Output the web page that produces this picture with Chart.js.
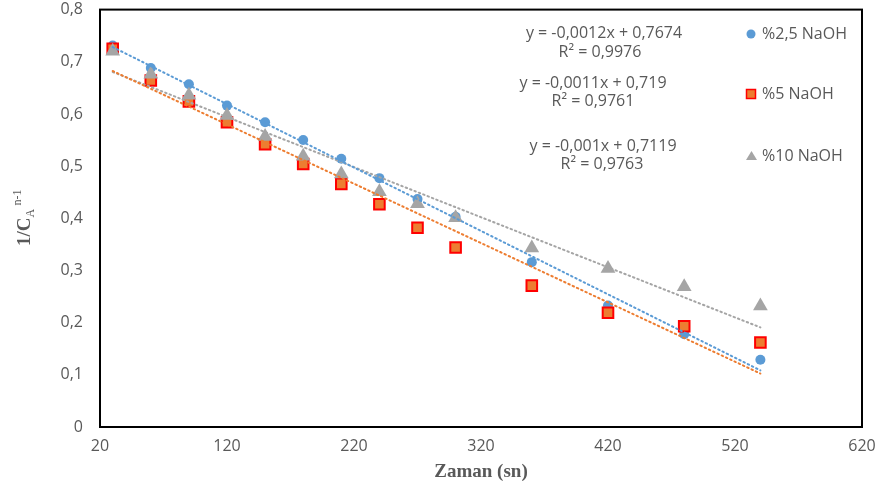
<!DOCTYPE html>
<html>
<head>
<meta charset="utf-8">
<script src="https://cdn.jsdelivr.net/npm/chart.js"></script>
<style>
	html, body { margin: 0; padding: 0; background: #fff; }
</style>
</head>
<body>
<canvas id="canvas" width="878" height="490"></canvas>
<script>
// zaman (sn)
var zaman = [30, 60, 90, 120, 150, 180, 210, 240, 270, 300, 360, 420, 480, 540];
// 1/CA^(n-1)
var naoh25 = [0.731, 0.688, 0.657, 0.616, 0.584, 0.550, 0.514, 0.477, 0.437, 0.403, 0.316, 0.233, 0.178, 0.129];
var naoh5  = [0.725, 0.664, 0.624, 0.584, 0.542, 0.504, 0.466, 0.427, 0.382, 0.344, 0.271, 0.219, 0.193, 0.162];
var naoh10 = [0.720, 0.676, 0.636, 0.597, 0.557, 0.519, 0.485, 0.451, 0.428, 0.401, 0.343, 0.304, 0.269, 0.232];

var seriesNames = ['%2,5 NaOH', '%5 NaOH', '%10 NaOH'];
var equations = ['y = -0,0012x + 0,7674', 'y = -0,0011x + 0,719', 'y = -0,001x + 0,7119'];
var r2Labels = ['R² = 0,9976', 'R² = 0,9761', 'R² = 0,9763'];

var colBlue = '#5B9BD5', colOrange = '#ED7D31', colRed = '#FF0000', colGray = '#A5A5A5';
var textCol = '#595959';

function points(xs, ys) {
	var out = [];
	for (var i = 0; i < xs.length; i++) out.push({x: xs[i], y: ys[i]});
	return out;
}

// least squares trend line, first to last x
function trend(xs, ys) {
	var n = xs.length, sx = 0, sy = 0, sxx = 0, sxy = 0;
	for (var i = 0; i < n; i++) {
		sx += xs[i]; sy += ys[i]; sxx += xs[i] * xs[i]; sxy += xs[i] * ys[i];
	}
	var m = (n * sxy - sx * sy) / (n * sxx - sx * sx);
	var b = (sy - m * sx) / n;
	return [{x: xs[0], y: b + m * xs[0]}, {x: xs[n - 1], y: b + m * xs[n - 1]}];
}

function trendSet(data, color) {
	return {
		type: 'line',
		data: data,
		showLine: true,
		borderColor: color,
		borderWidth: 2,
		borderDash: [1.5, 3.2],
		borderCapStyle: 'round',
		pointRadius: 0,
		fill: false,
		order: 0
	};
}

var extras = {
	id: 'extras',
	afterDraw: function(chart) {
		var ctx = chart.ctx, a = chart.chartArea;
		ctx.save();
		// frame
		ctx.strokeStyle = '#000';
		ctx.lineWidth = 2;
		ctx.strokeRect(a.left, a.top, a.right - a.left, a.bottom - a.top);

		// equations
		ctx.fillStyle = textCol;
		ctx.font = '16px "Open Sans"';
		ctx.textAlign = 'center';
		ctx.textBaseline = 'middle';
		var eqPos = [[604, 33, 600, 52], [593, 83, 593, 101], [603, 146, 602, 164]];
		for (var i = 0; i < 3; i++) {
			ctx.fillText(equations[i], eqPos[i][0], eqPos[i][1]);
			ctx.fillText(r2Labels[i], eqPos[i][2], eqPos[i][3]);
		}

		// legend
		var legY = [34, 94, 156];
		ctx.textAlign = 'left';
		for (var j = 0; j < 3; j++) {
			ctx.fillStyle = textCol;
			ctx.fillText(seriesNames[j], 762, legY[j]);
		}
		ctx.fillStyle = colBlue;
		ctx.beginPath();
		ctx.arc(751, legY[0], 4.5, 0, Math.PI * 2);
		ctx.fill();
		ctx.fillStyle = colOrange;
		ctx.fillRect(746.5, legY[1] - 4.5, 9, 9);
		ctx.strokeStyle = colRed;
		ctx.lineWidth = 1.5;
		ctx.strokeRect(746.5, legY[1] - 4.5, 9, 9);
		ctx.fillStyle = colGray;
		ctx.beginPath();
		ctx.moveTo(751.5, legY[2] - 5);
		ctx.lineTo(757, legY[2] + 4);
		ctx.lineTo(746, legY[2] + 4);
		ctx.closePath();
		ctx.fill();

		// y axis title 1/CA n-1
		ctx.translate(30, 246);
		ctx.rotate(-Math.PI / 2);
		ctx.fillStyle = textCol;
		ctx.textAlign = 'left';
		ctx.textBaseline = 'alphabetic';
		ctx.font = 'bold 19px "Liberation Serif"';
		ctx.fillText('1/C', 0, 0);
		var w = ctx.measureText('1/C').width;
		ctx.font = '12px "Liberation Serif"';
		ctx.fillText('A', w, 4);
		ctx.fillText('n-1', w + 12, -9);
		ctx.restore();
	}
};

var ctx = document.getElementById('canvas').getContext('2d');
var chart = new Chart(ctx, {
	type: 'scatter',
	data: {
		datasets: [
			trendSet(trend(zaman, naoh25), colBlue),
			trendSet(trend(zaman, naoh5), colOrange),
			trendSet(trend(zaman, naoh10), colGray),
			{
				label: seriesNames[2],
				data: points(zaman, naoh10),
				pointStyle: 'triangle',
				pointRadius: 8.5,
				backgroundColor: colGray,
				borderColor: colGray,
				borderWidth: 0,
				order: 1
			},
			{
				label: seriesNames[1],
				data: points(zaman, naoh5),
				pointStyle: 'rect',
				pointRadius: 7.5,
				backgroundColor: colOrange,
				borderColor: colRed,
				borderWidth: 2,
				order: 2
			},
			{
				label: seriesNames[0],
				data: points(zaman, naoh25),
				pointStyle: 'circle',
				pointRadius: 5,
				backgroundColor: colBlue,
				borderColor: colBlue,
				borderWidth: 0,
				order: 3
			}
		]
	},
	options: {
		responsive: false,
		animation: false,
		events: [],
		layout: {
			padding: {top: 9, right: 16, bottom: 0, left: 0}
		},
		plugins: {
			legend: {display: false},
			tooltip: {enabled: false}
		},
		scales: {
			x: {
				type: 'linear',
				min: 20,
				max: 620,
				grid: {drawOnChartArea: false, drawTicks: true, tickLength: 10, tickColor: 'rgba(0,0,0,0)', color: 'rgba(0,0,0,0)'},
				border: {display: false},
				ticks: {
					stepSize: 100,
					color: textCol,
					font: {family: 'Open Sans', size: 16},
					padding: 0
				},
				title: {
					display: true,
					text: 'Zaman (sn)',
					color: textCol,
					font: {family: 'Liberation Serif', size: 19, weight: 'bold'},
					padding: {top: 0, bottom: 7}
				},
				afterFit: function(s) { s.height = 63; }
			},
			y: {
				min: 0,
				max: 0.8,
				grid: {drawOnChartArea: false, drawTicks: true, tickLength: 17, tickColor: 'rgba(0,0,0,0)', color: 'rgba(0,0,0,0)'},
				border: {display: false},
				ticks: {
					stepSize: 0.1,
					color: textCol,
					font: {family: 'Open Sans', size: 16},
					padding: 0,
					callback: function(v) {
						return v === 0 ? '0' : v.toFixed(1).replace('.', ',');
					}
				},
				afterFit: function(s) { s.width = 100; }
			}
		}
	},
	plugins: [extras]
});
</script>
</body>
</html>
